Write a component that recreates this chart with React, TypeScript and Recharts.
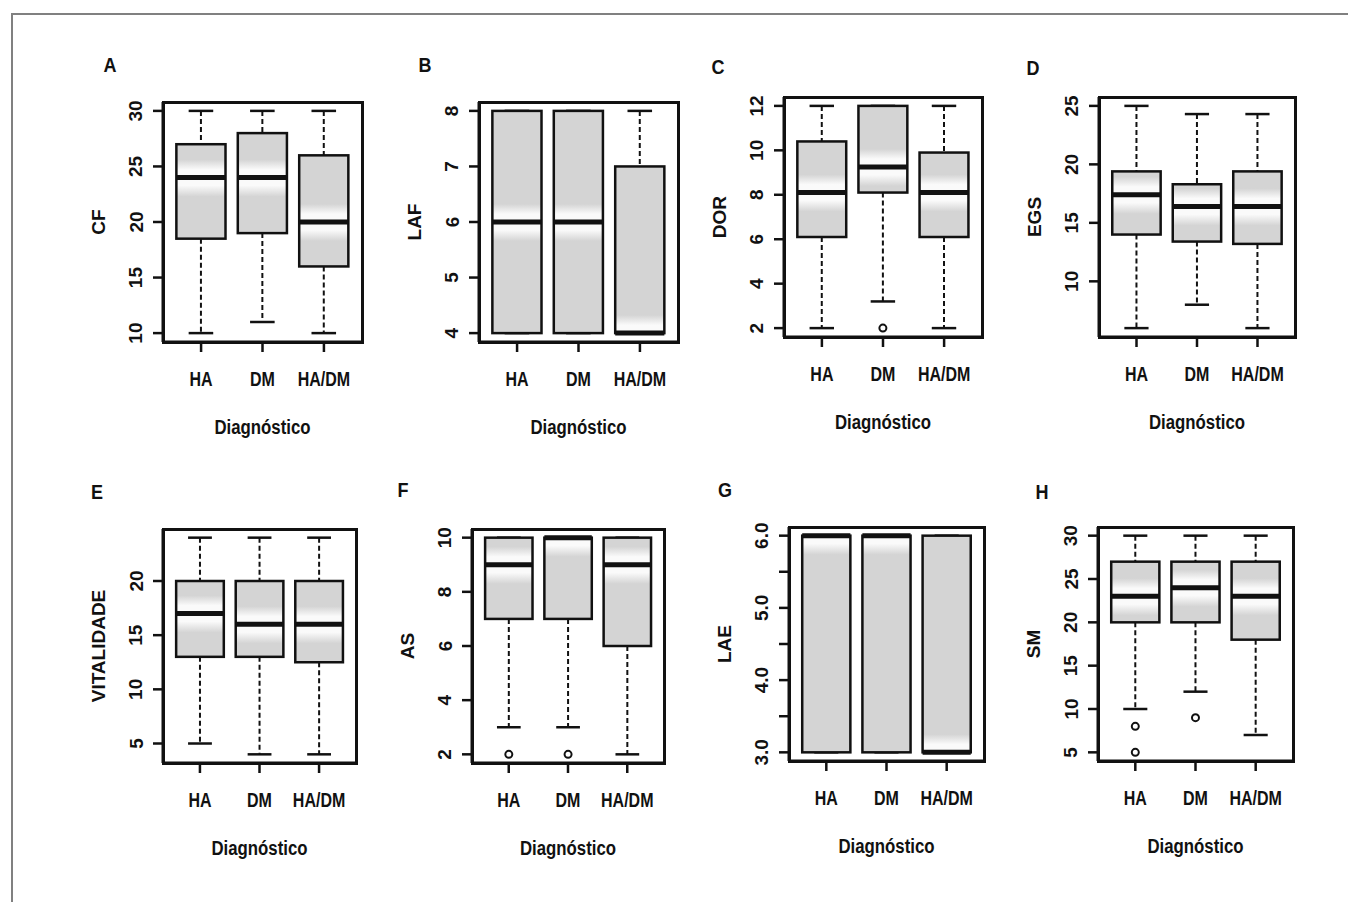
import React from "react";
import { ComposedChart, Bar, XAxis, YAxis } from "recharts";

const categories = ["HA", "DM", "HA/DM"];

// cada linha: [mín, Q1, mediana, Q3, máx] para HA, DM, HA/DM
const cfBox = [[10, 18.5, 24, 27, 30], [11, 19, 24, 28, 30], [10, 16, 20, 26, 30]];
const cfOut = [[], [], []];
const cfTicks = [10, 15, 20, 25, 30];

const lafBox = [[4, 4, 6, 8, 8], [4, 4, 6, 8, 8], [4, 4, 4, 7, 8]];
const lafOut = [[], [], []];
const lafTicks = [4, 5, 6, 7, 8];

const dorBox = [[2, 6.1, 8.1, 10.4, 12], [3.2, 8.1, 9.25, 12, 12], [2, 6.1, 8.1, 9.9, 12]];
const dorOut = [[], [2], []];
const dorTicks = [2, 4, 6, 8, 10, 12];

const egsBox = [[6, 14, 17.4, 19.4, 25], [8, 13.4, 16.4, 18.3, 24.3], [6, 13.2, 16.4, 19.4, 24.3]];
const egsOut = [[], [], []];
const egsTicks = [10, 15, 20, 25];

const vitBox = [[5, 13, 17, 20, 24], [4, 13, 16, 20, 24], [4, 12.5, 16, 20, 24]];
const vitOut = [[], [], []];
const vitTicks = [5, 10, 15, 20];

const asBox = [[3, 7, 9, 10, 10], [3, 7, 10, 10, 10], [2, 6, 9, 10, 10]];
const asOut = [[2], [2], []];
const asTicks = [2, 4, 6, 8, 10];

const laeBox = [[3, 3, 6, 6, 6], [3, 3, 6, 6, 6], [3, 3, 3, 6, 6]];
const laeOut = [[], [], []];
const laeTicks = [3, 3.5, 4, 4.5, 5, 5.5, 6];

const smBox = [[10, 20, 23, 27, 30], [12, 20, 24, 27, 30], [7, 18, 23, 27, 30]];
const smOut = [[8, 5], [9], []];
const smTicks = [5, 10, 15, 20, 25, 30];

type Panel = {
  id: string;
  letter: string;
  yLabel: string;
  box: number[][];
  out: number[][];
  ticks: number[];
  plot: [number, number, number, number]; // left, top, width, height
  letterAt: [number, number];
  fmt?: (v: number) => string;
};

const panels: Panel[] = [
  { id: "a", letter: "A", yLabel: "CF", box: cfBox, out: cfOut, ticks: cfTicks, plot: [163, 102, 199, 240], letterAt: [110, 65] },
  { id: "b", letter: "B", yLabel: "LAF", box: lafBox, out: lafOut, ticks: lafTicks, plot: [479, 102, 199, 240], letterAt: [425, 65] },
  { id: "c", letter: "C", yLabel: "DOR", box: dorBox, out: dorOut, ticks: dorTicks, plot: [784, 97, 198, 240], letterAt: [718, 67] },
  { id: "d", letter: "D", yLabel: "EGS", box: egsBox, out: egsOut, ticks: egsTicks, plot: [1099, 97, 196, 240], letterAt: [1033, 68] },
  { id: "e", letter: "E", yLabel: "VITALIDADE", box: vitBox, out: vitOut, ticks: vitTicks, plot: [163, 529, 193, 234], letterAt: [97, 492] },
  { id: "f", letter: "F", yLabel: "AS", box: asBox, out: asOut, ticks: asTicks, plot: [472, 529, 192, 234], letterAt: [403, 490] },
  {
    id: "g", letter: "G", yLabel: "LAE", box: laeBox, out: laeOut, ticks: laeTicks, plot: [789, 527, 195, 234], letterAt: [725, 490],
    fmt: (v) => (Number.isInteger(v) ? v.toFixed(1) : ""),
  },
  { id: "h", letter: "H", yLabel: "SM", box: smBox, out: smOut, ticks: smTicks, plot: [1098, 527, 195, 234], letterAt: [1042, 492] },
];

const INK = "#111";
const GRAY = "#d4d4d4";
const SANS = "'Liberation Sans', Arial, sans-serif";
const NARROW_X = 0.8; // simula Arial Narrow

const Y_AXIS_W = 90;
const X_AXIS_H = 100;
const M_TOP = 10;
const M_RIGHT = 10;

// estilo do boxplot do R: caixa cinza, mediana grossa, bigodes tracejados
function BoxShape(props: any) {
  const { x, y, width, height, payload, index, gid } = props;
  const [lo, q1, med, q3, hi] = payload.stats as number[];
  const top = Math.min(y, y + height);
  const bot = Math.max(y, y + height);
  const py = (v: number) => bot - ((v - lo) / (hi - lo)) * (bot - top);
  const cx = x + width / 2;
  const yq1 = py(q1), yq3 = py(q3), ym = py(med);
  const bh = Math.max(yq1 - yq3, 0.001);
  const off = (p: number) => Math.min(1, Math.max(0, (p - yq3) / bh));
  const gradId = `glow-${gid}-${index}`;
  return (
    <g>
      <defs>
        <linearGradient id={gradId} gradientUnits="userSpaceOnUse" x1={0} y1={yq3} x2={0} y2={yq1}>
          <stop offset={0} stopColor={GRAY} />
          <stop offset={off(ym - 18)} stopColor={GRAY} />
          <stop offset={off(ym - 8)} stopColor="#fafafa" />
          <stop offset={off(ym + 8)} stopColor="#fafafa" />
          <stop offset={off(ym + 19)} stopColor={GRAY} />
          <stop offset={1} stopColor={GRAY} />
        </linearGradient>
      </defs>
      <line x1={cx} x2={cx} y1={py(hi)} y2={yq3} stroke={INK} strokeWidth={2} strokeDasharray="5 3" />
      <line x1={cx} x2={cx} y1={yq1} y2={py(lo)} stroke={INK} strokeWidth={2} strokeDasharray="5 3" />
      <line x1={cx - width / 4} x2={cx + width / 4} y1={py(hi)} y2={py(hi)} stroke={INK} strokeWidth={2.5} />
      <line x1={cx - width / 4} x2={cx + width / 4} y1={py(lo)} y2={py(lo)} stroke={INK} strokeWidth={2.5} />
      <rect x={x} y={yq3} width={width} height={bh} fill={`url(#${gradId})`} stroke={INK} strokeWidth={2.5} />
      <line x1={x} x2={x + width} y1={ym} y2={ym} stroke={INK} strokeWidth={5} />
      {(payload.out as number[]).map((v, k) => (
        <circle key={k} cx={cx} cy={py(v)} r={3.5} fill="#fff" stroke={INK} strokeWidth={2} />
      ))}
    </g>
  );
}

function YTick(props: any) {
  const { x, y, payload, fmt } = props;
  const tx = x - 15;
  const txt = fmt ? fmt(payload.value) : String(payload.value);
  return (
    <text x={tx} y={y} transform={`rotate(-90 ${tx} ${y})`} textAnchor="middle" dominantBaseline="central"
      fontFamily={SANS} fontWeight="bold" fontSize={19} fill={INK}>
      {txt}
    </text>
  );
}

function NarrowText({ x, y, size, children }: { x: number; y: number; size: number; children: React.ReactNode }) {
  return (
    <text transform={`translate(${x} ${y}) scale(${NARROW_X} 1)`} textAnchor="middle" dominantBaseline="central"
      fontFamily={SANS} fontWeight="bold" fontSize={size} fill={INK}>
      {children}
    </text>
  );
}

function XTick(props: any) {
  const { x, y, payload } = props;
  return <NarrowText x={x} y={y + 25} size={20}>{payload.value}</NarrowText>;
}

function BoxPanel({ p }: { p: Panel }) {
  const [left, top, pw, ph] = p.plot;
  const all = p.box.flat().concat(p.out.flat());
  const vmin = Math.min(...all);
  const vmax = Math.max(...all);
  const ext = (vmax - vmin) * 0.04;
  const domain = [vmin - ext, vmax + ext];
  const band = pw / 3.24;
  const pad = band * 0.12;

  const data = categories.map((cat, i) => ({
    cat,
    range: [p.box[i][0], p.box[i][4]],
    stats: p.box[i],
    out: p.out[i],
  }));

  const frame = { stroke: INK, strokeWidth: 3 };
  const tickLn = { stroke: INK, strokeWidth: 2.5 };
  const ox = left - Y_AXIS_W;
  const oy = top - M_TOP;

  return (
    <div style={{ position: "absolute", left: ox, top: oy }}>
      <ComposedChart
        width={pw + Y_AXIS_W + M_RIGHT}
        height={ph + M_TOP + X_AXIS_H}
        data={data}
        margin={{ top: M_TOP, right: M_RIGHT, bottom: 0, left: 0 }}
      >
        <XAxis
          dataKey="cat"
          type="category"
          interval={0}
          height={X_AXIS_H}
          padding={{ left: pad, right: pad }}
          tickSize={10}
          tickLine={tickLn}
          axisLine={frame}
          tick={<XTick />}
          label={(lp: any) => {
            const vb = lp.viewBox || {};
            return <NarrowText x={vb.x + vb.width / 2} y={vb.y + 85} size={21}>Diagnóstico</NarrowText>;
          }}
        />
        <YAxis
          type="number"
          domain={domain}
          allowDataOverflow
          ticks={p.ticks}
          interval={0}
          width={Y_AXIS_W}
          tickSize={10}
          tickLine={tickLn}
          axisLine={frame}
          tick={<YTick fmt={p.fmt} />}
          label={(lp: any) => {
            const vb = lp.viewBox || {};
            const lx = vb.x + vb.width - 65;
            const ly = vb.y + vb.height / 2;
            return (
              <text x={lx} y={ly} transform={`rotate(-90 ${lx} ${ly})`} textAnchor="middle" dominantBaseline="central"
                fontFamily={SANS} fontWeight="bold" fontSize={19} fill={INK}>
                {p.yLabel}
              </text>
            );
          }}
        />
        <Bar
          dataKey="range"
          barSize={band * 0.8}
          isAnimationActive={false}
          shape={(sp: any) => <BoxShape {...sp} gid={p.id} />}
        />
      </ComposedChart>
      {/* moldura do gráfico (box() do R) */}
      <div
        style={{
          position: "absolute",
          left: Y_AXIS_W - 1.5,
          top: M_TOP - 1.5,
          width: pw + 3,
          height: ph + 3,
          border: `3px solid ${INK}`,
          boxSizing: "border-box",
          pointerEvents: "none",
        }}
      />
      <div
        style={{
          position: "absolute",
          left: p.letterAt[0] - ox,
          top: p.letterAt[1] - oy,
          transform: "translate(-50%, -50%) scaleX(0.9)",
          fontFamily: SANS,
          fontWeight: "bold",
          fontSize: 20,
          color: INK,
        }}
      >
        {p.letter}
      </div>
    </div>
  );
}

export default function App() {
  return (
    <div style={{ position: "absolute", left: 0, top: 0, width: 1348, height: 902, background: "#fff", overflow: "hidden" }}>
      <div
        style={{
          position: "absolute",
          left: 11,
          top: 13,
          width: 1348,
          height: 902,
          borderTop: "2px solid #808080",
          borderLeft: "2px solid #808080",
        }}
      />
      {panels.map((p) => (
        <BoxPanel key={p.id} p={p} />
      ))}
    </div>
  );
}
